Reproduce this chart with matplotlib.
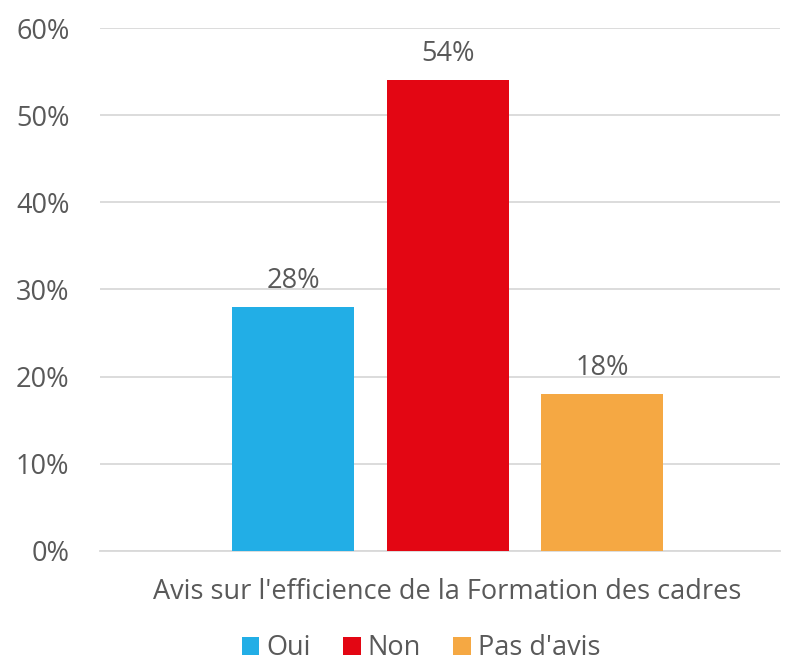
import matplotlib.pyplot as plt
from matplotlib.ticker import PercentFormatter

# data
categories = ["Oui", "Non", "Pas d'avis"]
values = [28, 54, 18]
colors = ["#22AEE6", "#E30613", "#F5A843"]
group_label = "Avis sur l'efficience de la Formation des cadres"

plt.rcParams['font.family'] = ['Open Sans', 'DejaVu Sans']
text_color = '#595959'
fs = 19.5

fig = plt.figure(figsize=(7.87, 6.67), dpi=100)
ax = fig.add_axes([0.127, 0.174, 0.864, 0.784])

x = list(range(len(categories)))
bars = ax.bar(x, values, width=0.79, color=colors, label=categories, zorder=3)
for b, v in zip(bars, values):
    ax.text(b.get_x() + b.get_width() / 2, v + 1.4, f"{v}%", ha='center', va='bottom',
            fontsize=fs, color=text_color)

ax.set_xlim(-1.252, 3.149)
ax.set_ylim(0, 60)
ax.set_yticks(range(0, 61, 10))
ax.yaxis.set_major_formatter(PercentFormatter(decimals=0))
ax.tick_params(axis='y', length=0, pad=22, labelsize=fs, labelcolor=text_color)
ax.set_xticks([])
ax.grid(axis='y', color='#D9D9D9', linewidth=1.3, zorder=0)
for s in ['top', 'right', 'left']:
    ax.spines[s].set_visible(False)
ax.spines['bottom'].set_color('#D9D9D9')
ax.spines['bottom'].set_linewidth(1.3)

fig.text(0.568, 0.112, group_label, ha='center', va='center', fontsize=fs, color=text_color)

leg = fig.legend(handles=list(bars), labels=categories, loc='center', bbox_to_anchor=(0.535, 0.028),
                 ncol=3, frameon=False, fontsize=fs, handlelength=0.65, handleheight=0.65,
                 handletextpad=0.25, columnspacing=1.2, labelcolor=text_color,
                 borderpad=0.1)

fig.savefig('out.png', dpi=100)
